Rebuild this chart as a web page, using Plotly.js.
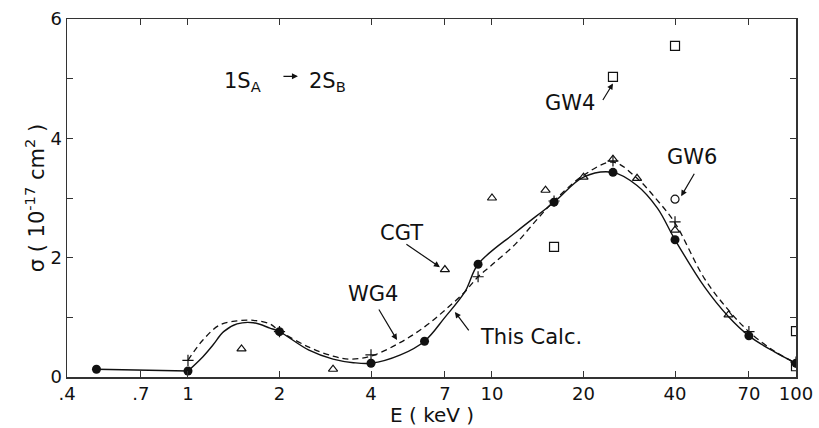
<!DOCTYPE html>
<html>
<head>
<meta charset="utf-8">
<script src="https://cdn.plot.ly/plotly-3.0.1.min.js"></script>
<style>html,body{margin:0;padding:0;background:#fff;}#chart{width:819px;height:428px;}</style>
</head>
<body>
<div id="chart"></div>
<script>
// ---- data ----
const calcE = [0.5, 1, 2, 4, 6, 9, 16, 25, 40, 70, 100];
const calcS = [0.13, 0.1, 0.76, 0.23, 0.6, 1.89, 2.93, 3.43, 2.3, 0.69, 0.23];

const wg4E = [1, 2, 4, 9, 16, 25, 40, 70, 100];
const wg4S = [0.28, 0.76, 0.37, 1.68, 2.95, 3.62, 2.6, 0.76, 0.25];

const cgtE = [1.5, 3, 7, 10, 15, 20, 25, 30, 40, 60];
const cgtS = [0.47, 0.13, 1.8, 3.0, 3.13, 3.35, 3.65, 3.33, 2.46, 1.04];

const gw4E = [16, 25, 40, 100, 100];
const gw4S = [2.18, 5.03, 5.55, 0.77, 0.18];

const gw6E = [40];
const gw6S = [2.98];

// solid curve ("This Calc.")
const lowSegE = [0.5, 1];
const lowSegS = [0.13, 0.1];
const calcCurveE = [1, 1.12, 1.21, 1.31, 1.45, 1.64, 1.86, 2, 2.5, 3, 3.5, 4, 5, 6, 7, 8.15, 9, 12, 16, 20, 25, 30, 35, 40, 50, 60, 70, 85, 100];
const calcCurveS = [0.1, 0.34, 0.54, 0.76, 0.89, 0.91, 0.82, 0.76, 0.45, 0.3, 0.24, 0.23, 0.37, 0.6, 1.0, 1.43, 1.89, 2.43, 2.93, 3.35, 3.43, 3.21, 2.83, 2.3, 1.51, 1.01, 0.69, 0.42, 0.23];

// dashed curve (WG4)
const wgCurveE = [1, 1.12, 1.27, 1.45, 1.64, 1.86, 2, 2.5, 3, 3.4, 4, 5, 6, 7, 8.15, 9, 10, 12, 14, 16, 20, 25, 30, 35, 40, 50, 60, 70, 85, 100];
const wgCurveS = [0.28, 0.62, 0.87, 0.94, 0.95, 0.89, 0.77, 0.5, 0.35, 0.3, 0.35, 0.58, 0.84, 1.12, 1.43, 1.68, 1.88, 2.24, 2.63, 2.95, 3.38, 3.6, 3.33, 2.96, 2.58, 1.65, 1.12, 0.76, 0.43, 0.23];

const xTickVals = [0.4, 0.7, 1, 2, 4, 7, 10, 20, 40, 70, 100];
const xTickText = ['.4', '.7', '1', '2', '4', '7', '10', '20', '40', '70', '100'];
const yTickVals = [0, 1, 2, 3, 4, 5, 6];
const yTickText = ['0', '', '2', '', '4', '', '6'];
const xTitle = 'E ( keV )';
const yTitle = 'σ ( 10<sup>-17</sup> cm<sup>2</sup> )';

const ink = '#111';
const FONT = 'DejaVu Sans, Arial, sans-serif';

const traces = [
  {x: lowSegE, y: lowSegS, mode: 'lines', line: {color: ink, width: 1.4}, hoverinfo: 'skip'},
  {x: calcCurveE, y: calcCurveS, mode: 'lines', line: {color: ink, width: 1.4, shape: 'spline', smoothing: 1}, hoverinfo: 'skip'},
  {x: wgCurveE, y: wgCurveS, mode: 'lines', line: {color: ink, width: 1.3, dash: '6px,4px', shape: 'spline', smoothing: 1}, hoverinfo: 'skip'},
  {x: cgtE, y: cgtS, mode: 'markers', marker: {symbol: 'triangle-up-open', size: 8, color: ink, line: {width: 1.2}}},
  {x: gw4E, y: gw4S, mode: 'markers', marker: {symbol: 'square-open', size: 9, color: ink, line: {width: 1.2}}},
  {x: gw6E, y: gw6S, mode: 'markers', marker: {symbol: 'circle-open', size: 8, color: ink, line: {width: 1.2}}},
  {x: wg4E, y: wg4S, mode: 'markers', marker: {symbol: 'cross-thin-open', size: 8, color: ink, line: {width: 1.2, color: ink}}},
  {x: calcE, y: calcS, mode: 'markers', marker: {symbol: 'circle', size: 9, color: ink}}
];

const L = Math.log10;
const annFont = {family: FONT, size: 21, color: ink};
function txt(text, x, y, xa, size) {
  return {text: text, xref: 'paper', yref: 'paper', x: x, y: y, xanchor: xa || 'center', yanchor: 'middle', showarrow: false,
          font: size ? {family: FONT, size: size, color: ink} : annFont};
}
function arr(E, S, ax, ay) {
  return {text: '', x: L(E), y: S, xref: 'x', yref: 'y', ax: ax, ay: ay, showarrow: true, arrowhead: 2, arrowsize: 1, arrowwidth: 1.2, arrowcolor: ink, standoff: 0};
}

const layout = {
  width: 819, height: 428,
  margin: {l: 67, r: 23, t: 19, b: 51},
  paper_bgcolor: '#fff', plot_bgcolor: '#fff',
  showlegend: false,
  font: {family: FONT, color: ink},
  xaxis: {
    type: 'log', range: [L(0.4), 2],
    tickmode: 'array', tickvals: xTickVals, ticktext: xTickText,
    ticks: 'inside', ticklen: 6, tickwidth: 1, tickcolor: '#333',
    showline: true, linecolor: '#333', linewidth: 1.5, mirror: 'ticks',
    showgrid: false, zeroline: false,
    tickfont: {family: FONT, size: 18, color: ink}
  },
  yaxis: {
    range: [0, 6],
    tickmode: 'array', tickvals: yTickVals, ticktext: yTickText,
    ticks: 'inside', ticklen: 6, tickwidth: 1, tickcolor: '#333',
    showline: true, linecolor: '#333', linewidth: 1.5, mirror: 'ticks',
    showgrid: false, zeroline: false,
    tickfont: {family: FONT, size: 18, color: ink},
    title: {text: yTitle, font: {family: FONT, size: 21, color: ink}, standoff: 0}
  },
  annotations: [
    txt(xTitle, 0.5, -0.106, 'center', 20),
    txt('1S<sub>A</sub>', 0.2126, 0.825, 'left'),
    txt('2S<sub>B</sub>', 0.329, 0.825, 'left'),
    arr(2.30, 5.04, -16, 0),
    txt('GW4', 0.690, 0.765),
    arr(25, 4.92, -11, 18),
    txt('GW6', 0.857, 0.6145),
    arr(41.9, 3.03, 14, -24),
    txt('CGT', 0.4595, 0.402),
    arr(6.74, 1.84, -35, -24),
    txt('WG4', 0.4198, 0.232),
    arr(4.87, 0.62, -19, -32),
    txt('This Calc.', 0.6365, 0.1117),
    arr(7.55, 1.09, 15, 20)
  ]
};

Plotly.newPlot('chart', traces, layout, {displayModeBar: false, staticPlot: true});
</script>
</body>
</html>
